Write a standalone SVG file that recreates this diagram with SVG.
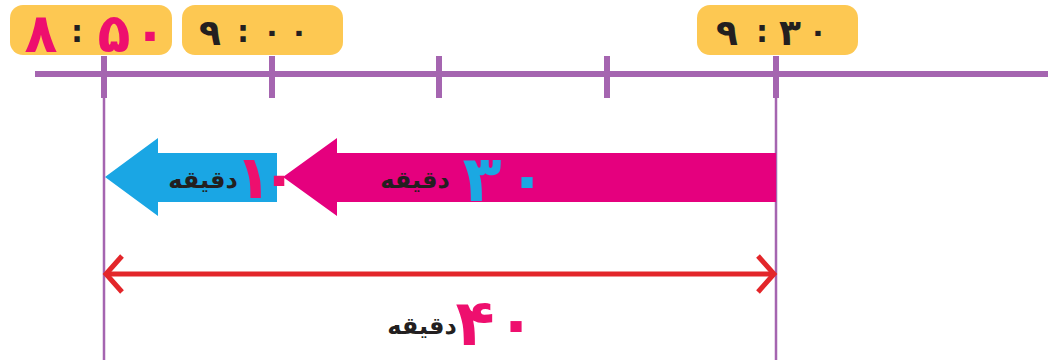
<svg xmlns="http://www.w3.org/2000/svg" width="1048" height="360" viewBox="0 0 1048 360">
<style>
.tl{stroke:#a565b0;fill:none}
.box{fill:#fdc852}
.f{font-family:"DejaVu Sans",sans-serif;font-weight:bold;text-anchor:middle}
.mag{fill:#ee0f6e}
.blk{fill:#231f20}
.cy{fill:#1ba8e2}
.w{font-size:24px}
</style>
<g id="timeline">
<line class="tl" x1="35" y1="74" x2="1048" y2="74" stroke-width="6"/>
<g stroke-width="6" class="tl">
<line x1="104" y1="56" x2="104" y2="98"/>
<line x1="272" y1="56" x2="272" y2="98"/>
<line x1="439" y1="56" x2="439" y2="98"/>
<line x1="607" y1="56" x2="607" y2="98"/>
<line x1="776" y1="56" x2="776" y2="98"/>
</g>
<g stroke-width="2.5" class="tl">
<line x1="104" y1="96" x2="104" y2="360"/>
<line x1="776" y1="96" x2="776" y2="360"/>
</g>
</g>
<g id="label-850">
<rect class="box" x="10" y="5" width="162" height="50" rx="13"/>
<text class="f mag" font-size="54" x="41" y="52">۸</text>
<text class="f blk" font-size="30" x="77" y="42">:</text>
<text class="f mag" font-size="54" x="114" y="52">۵</text>
<text class="f mag" font-size="54" x="150" y="52">۰</text>
</g>
<g id="label-900">
<rect class="box" x="182" y="5" width="161" height="50" rx="13"/>
<text class="f blk" font-size="36" x="210" y="45">۹</text>
<text class="f blk" font-size="30" x="243" y="42">:</text>
<text class="f blk" font-size="30" x="272" y="42">۰</text>
<text class="f blk" font-size="30" x="299" y="42">۰</text>
</g>
<g id="label-930">
<rect class="box" x="697" y="5" width="161" height="50" rx="13"/>
<text class="f blk" font-size="36" x="727" y="45">۹</text>
<text class="f blk" font-size="30" x="762" y="42">:</text>
<text class="f blk" font-size="36" x="790" y="45">۳</text>
<text class="f blk" font-size="30" x="818" y="42">۰</text>
</g>
<g id="arrow-30">
<polygon fill="#e5007e" points="776,153 337,153 337,138 283,177 337,216 337,202 776,202"/>
<text class="f blk w" x="415" y="188">دقیقه</text>
<text class="f cy" font-size="64" x="482" y="201">۳</text>
<text class="f cy" font-size="64" x="527" y="201">۰</text>
</g>
<g id="arrow-10">
<polygon fill="#1aa6e4" points="277,153 158,153 158,138 105,177 158,216 158,202 277,202"/>
<text class="f blk w" x="203" y="188">دقیقه</text>
<text class="f mag" font-size="60" x="235" y="198" style="text-anchor:start">۱<tspan dx="-11">۰</tspan></text>
</g>
<g id="connectors">
<line x1="106" y1="274" x2="774" y2="274" stroke="#e3262a" stroke-width="5"/>
<polyline points="122,256 106,274 122,292" fill="none" stroke="#e3262a" stroke-width="5"/>
<polyline points="758,256 774,274 758,292" fill="none" stroke="#e3262a" stroke-width="5"/>
</g>
<g id="label-40">
<text class="f blk w" x="422" y="334">دقیقه</text>
<text class="f mag" font-size="64" x="475" y="345">۴</text>
<text class="f mag" font-size="64" x="516" y="345">۰</text>
</g>
</svg>
